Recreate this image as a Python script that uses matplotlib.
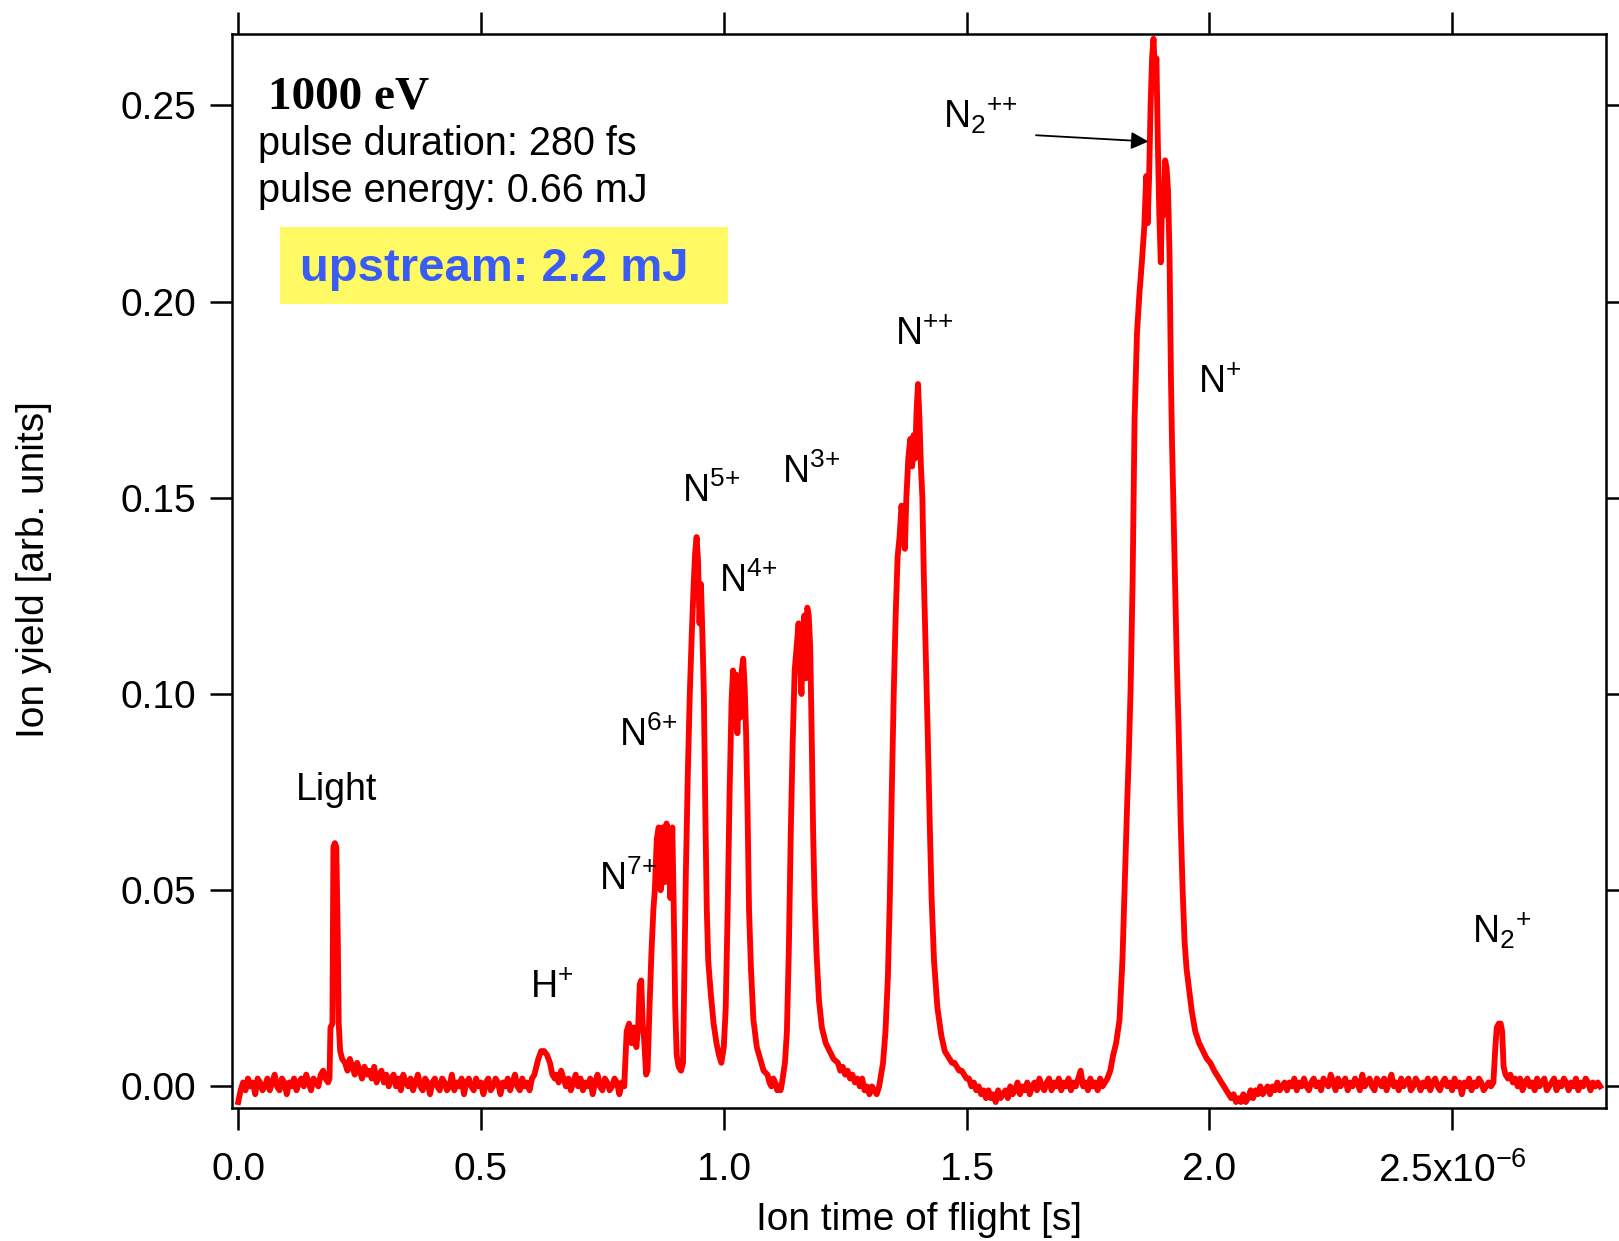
import numpy as np
import matplotlib
matplotlib.use("Agg")
import matplotlib.pyplot as plt
from matplotlib.patches import Rectangle

plt.rcParams['font.family'] = ['Liberation Sans', 'DejaVu Sans']
plt.rcParams['mathtext.fontset'] = 'custom'
plt.rcParams['mathtext.rm'] = 'Liberation Sans'
plt.rcParams['mathtext.default'] = 'regular'

BASE_STEP_US = 0.005
base_a_start = 0.000
base_a = [-4, -1, 1, -1, 2, 0, 1, -2, 2, 1, -1, 0, 2, -1, 1, 3, 0, -1, 2, 1,
          -2, 1, 0, 2, -1, 1, 2, 0, 3, 1, -1, 2, 1, 0, 3, 4, 2, 1]
base_b_start = 0.220
base_b = [6, 4, 7, 5, 3, 6, 4, 2, 5, 3, 4, 2, 5, 1, 3, 4, 1, 3, 0, 2,
          3, 0, 2, -1, 3, 1, 0, 2, -1, 1, 3, 0, -1, 2, 1, -2, 1, 2, 0, -1,
          2, 1, -1, 0, 3, -1, 1, 0, 2, -2, 1, 2, 0, -1, 2, 0, 1, -2, 1, 2,
          -1, 0, 2, 1, -2, 1, 0, 2, -1, 1, 3, 0, -1, 2, 0, 1, -1, 2]
base_c_start = 0.655
base_c = [3, 1, 4, 2, 0, 2, -1, 1, 3, 0, 2, -1, 1, 0, 2, -2, 1, 3, 0, -1,
          2, 1, -1, 0, 2, 1, -2, 1, 0]
base_d_start = 1.455
base_d = [9, 8, 7, 6, 6, 5, 4, 4, 3, 2, 2, 0, 1, -1, 0, -2, -1, -3, -1, -3,
          -2, -4, -1, -3, -2, -1, -3, 0, -2, -1, 1, -2, 0, -1, 1, -2, 0, 1, -1, 2,
          0, -1, 1, 2, -1, 1, 0, 2, -1, 1, 0, 2, -1, 1, 0, 2, 4, 0, 1, -1,
          2, 0, 1, -1, 2, 0, 1, 2]
base_e_start = 2.015
base_e = [3, 2, 1, 0, -1, -2, -3, -2, -4, -3, -4, -2, -4, -3, -1, -3, -1, -2, 0, -2,
          -1, 0, -2, 0, -1, 1, -1, 0, 1, -1, 1, 0, 2, -1, 1, 0, 2, 0, -1, 1,
          2, 0, 1, -1, 2, 1, 0, 3, 1, -1, 2, 0, 1, 2, -1, 1, 0, 2, 1, -1,
          3, 0, 1, 2, 0, -1, 2, 1, 0, 2, -1, 1, 3, 0, 1, -1, 2, 0, 1, 2,
          -1, 0, 2, 1, -1, 1, 0, 2, -1, 1, 2, 0, -1, 1, 2, 0, 1, -1, 2, 0,
          1, -2, 1, 0, 2, -1, 1, 0, 2, 1, -1, 0, 1, 0, 1]
base_f_start = 2.610
base_f = [3, 2, 3, 1, 2, 0, 2, -1, 1, 2, 0, 1, -1, 2, 0, 1, 2, -1, 0, 1,
          2, -1, 1, 0, 2, 1, -1, 1, 0, 2, -1, 1, 0, 2, 1, -1, 1, 0, 1, 0]

# Peaks: time of flight (us), ion yield (arb. units)
light_t = [0.188, 0.190, 0.194, 0.196, 0.199, 0.202, 0.205, 0.207, 0.210, 0.214]
light_y = [0.002, 0.015, 0.016, 0.061, 0.062, 0.061, 0.038, 0.016, 0.009, 0.007]

hplus_t = [0.610, 0.614, 0.618, 0.624, 0.630, 0.636, 0.642, 0.647, 0.652]
hplus_y = [0.003, 0.005, 0.007, 0.009, 0.009, 0.008, 0.006, 0.003, 0.002]

cluster_t = [
    0.800, 0.805, 0.810, 0.815, 0.820, 0.824, 0.827, 0.830, 0.833, 0.836,
    0.840, 0.843, 0.847, 0.851, 0.855, 0.858, 0.862, 0.866, 0.870, 0.874,
    0.878, 0.882, 0.886, 0.890, 0.894, 0.897, 0.900, 0.903, 0.907, 0.912,
    0.916, 0.919, 0.922, 0.926, 0.930, 0.934, 0.938, 0.941, 0.944, 0.947,
    0.950, 0.953, 0.956, 0.959, 0.962, 0.965, 0.968, 0.973, 0.979, 0.985,
    0.990, 0.995, 1.000, 1.004, 1.008, 1.012, 1.016, 1.019, 1.022, 1.025,
    1.028, 1.031, 1.034, 1.037, 1.040, 1.043, 1.046, 1.049, 1.052, 1.056,
    1.061, 1.068, 1.075, 1.082, 1.090, 1.094, 1.098, 1.102, 1.106, 1.110,
    1.114, 1.117, 1.120, 1.126, 1.130, 1.134, 1.138, 1.142, 1.146, 1.150,
    1.154, 1.157, 1.160, 1.163, 1.166, 1.169, 1.172, 1.175, 1.178, 1.181,
    1.184, 1.187, 1.191, 1.196, 1.202, 1.210, 1.218, 1.226, 1.235, 1.240,
    1.245, 1.250, 1.255, 1.260, 1.265, 1.270, 1.275, 1.280, 1.285, 1.290,
    1.295, 1.300, 1.305, 1.310, 1.315, 1.320, 1.324, 1.328, 1.333, 1.338,
    1.342, 1.346, 1.350, 1.354, 1.358, 1.362, 1.366, 1.370, 1.373, 1.376,
    1.380, 1.384, 1.388, 1.391, 1.394, 1.397, 1.400, 1.403, 1.406, 1.409,
    1.412, 1.416, 1.420, 1.424, 1.428, 1.433, 1.440, 1.448,
]
cluster_y = [
    0.014, 0.016, 0.011, 0.015, 0.010, 0.016, 0.026, 0.027, 0.016, 0.012,
    0.003, 0.004, 0.020, 0.034, 0.045, 0.050, 0.063, 0.066, 0.050, 0.066,
    0.052, 0.067, 0.065, 0.048, 0.066, 0.045, 0.020, 0.008, 0.005, 0.004,
    0.006, 0.030, 0.055, 0.080, 0.100, 0.115, 0.128, 0.136, 0.140, 0.134,
    0.118, 0.128, 0.115, 0.100, 0.070, 0.045, 0.032, 0.024, 0.016, 0.011,
    0.008, 0.006, 0.010, 0.020, 0.045, 0.075, 0.098, 0.106, 0.092, 0.105,
    0.090, 0.103, 0.094, 0.106, 0.109, 0.102, 0.090, 0.070, 0.045, 0.030,
    0.017, 0.010, 0.007, 0.004, 0.003, 0.001, 0.000, 0.002, 0.001, -0.001,
    0.000, -0.001, 0.001, 0.006, 0.014, 0.035, 0.065, 0.088, 0.106, 0.112,
    0.118, 0.108, 0.100, 0.115, 0.120, 0.104, 0.122, 0.120, 0.112, 0.090,
    0.065, 0.048, 0.034, 0.022, 0.015, 0.011, 0.009, 0.007, 0.006, 0.004,
    0.005, 0.003, 0.004, 0.002, 0.003, 0.001, 0.002, 0.000, 0.002, -0.001,
    0.000, -0.002, 0.000, -0.001, -0.002, 0.000, 0.003, 0.006, 0.014, 0.028,
    0.048, 0.075, 0.100, 0.120, 0.135, 0.140, 0.148, 0.142, 0.137, 0.150,
    0.160, 0.165, 0.158, 0.166, 0.160, 0.172, 0.179, 0.170, 0.158, 0.150,
    0.130, 0.110, 0.090, 0.068, 0.048, 0.032, 0.020, 0.013,
]

main_t = [
    1.796, 1.802, 1.808, 1.815, 1.821, 1.827, 1.831, 1.834, 1.838, 1.842,
    1.846, 1.851, 1.856, 1.861, 1.866, 1.870, 1.873, 1.876, 1.879, 1.882,
    1.885, 1.888, 1.891, 1.894, 1.897, 1.900, 1.903, 1.906, 1.909, 1.912,
    1.915, 1.918, 1.921, 1.923, 1.926, 1.930, 1.933, 1.937, 1.941, 1.945,
    1.949, 1.953, 1.958, 1.964, 1.971, 1.979, 1.987, 1.995, 2.002, 2.010,
]
main_y = [
    0.004, 0.008, 0.011, 0.017, 0.032, 0.057, 0.073, 0.084, 0.102, 0.129,
    0.170, 0.192, 0.202, 0.210, 0.219, 0.232, 0.220, 0.232, 0.250, 0.262,
    0.267, 0.258, 0.262, 0.240, 0.222, 0.210, 0.228, 0.222, 0.236, 0.234,
    0.228, 0.212, 0.180, 0.165, 0.148, 0.125, 0.108, 0.090, 0.067, 0.050,
    0.037, 0.030, 0.025, 0.019, 0.014, 0.011, 0.009, 0.007, 0.006, 0.004,
]

n2plus_t = [2.589, 2.592, 2.596, 2.600, 2.603, 2.606]
n2plus_y = [0.010, 0.015, 0.016, 0.016, 0.014, 0.005]

x_ticks_us = [0.0, 0.5, 1.0, 1.5, 2.0, 2.5]
x_tick_labels = ["0.0", "0.5", "1.0", "1.5", "2.0", "2.5x10$^{-6}$"]
y_ticks = [0.00, 0.05, 0.10, 0.15, 0.20, 0.25]
y_tick_labels = ["0.00", "0.05", "0.10", "0.15", "0.20", "0.25"]

# peak labels: text, time (us), yield
peak_labels = [
    ("Light", 0.119, 0.0729),
    ("H$^{+}$", 0.600, 0.0224),
    ("N$^{7{+}}$", 0.742, 0.0500),
    ("N$^{6{+}}$", 0.785, 0.0868),
    ("N$^{5{+}}$", 0.913, 0.1490),
    ("N$^{4{+}}$", 0.991, 0.1260),
    ("N$^{3{+}}$", 1.119, 0.1537),
    ("N$^{{+}{+}}$", 1.353, 0.1890),
    ("N$_2{}^{{+}{+}}$", 1.451, 0.2442),
    ("N$^{+}$", 1.977, 0.1768),
    ("N$_2{}^{+}$", 2.540, 0.0366),
]


def baseline(start, vals):
    t = start + BASE_STEP_US * np.arange(len(vals))
    return list(t), [v * 1e-3 for v in vals]


parts = [
    baseline(base_a_start, base_a),
    (light_t, light_y),
    baseline(base_b_start, base_b),
    (hplus_t, hplus_y),
    baseline(base_c_start, base_c),
    (cluster_t, cluster_y),
    baseline(base_d_start, base_d),
    (main_t, main_y),
    baseline(base_e_start, base_e),
    (n2plus_t, n2plus_y),
    baseline(base_f_start, base_f),
]
tof_us = np.concatenate([np.asarray(p[0], float) for p in parts])
ion_yield = np.concatenate([np.asarray(p[1], float) for p in parts])
order = np.argsort(tof_us, kind='stable')
tof_us = tof_us[order]
ion_yield = ion_yield[order]

fig = plt.figure(figsize=(16.19, 12.41), dpi=100)
ax = fig.add_axes([0.1433, 0.1072, 0.8487, 0.8654])

ax.plot(tof_us * 1e-6, ion_yield, color='#ff0000', lw=4.2)

ax.set_xlim(-0.0128e-6, 2.817e-6)
ax.set_ylim(-0.0055, 0.2682)

ax.set_xticks(np.array(x_ticks_us) * 1e-6)
ax.set_xticklabels(x_tick_labels)
ax.set_yticks(y_ticks)
ax.set_yticklabels(y_tick_labels)
ax.tick_params(axis='both', direction='out', length=16, width=1.8,
               labelsize=28, top=True, right=True)
ax.tick_params(axis='x', pad=16)
ax.tick_params(axis='y', pad=10)
for s in ax.spines.values():
    s.set_linewidth(1.8)

fig.text(0.5676, 0.0169, "Ion time of flight [s]", fontsize=28,
         ha='center', va='center')
fig.text(0.021, 0.5407, "Ion yield [arb. units]", fontsize=28,
         ha='center', va='center', rotation=90)

# header text
ax.text(0.062e-6, 0.2492, "1000 eV", fontsize=34, fontweight='bold',
        family=['Liberation Serif', 'DejaVu Serif'], va='baseline')
ax.text(0.040e-6, 0.2374, "pulse duration: 280 fs", fontsize=28.5, va='baseline')
ax.text(0.040e-6, 0.2255, "pulse energy: 0.66 mJ", fontsize=28.5, va='baseline')

ax.add_patch(Rectangle((0.035, 0.749), 0.326, 0.071, transform=ax.transAxes,
                       facecolor='#fffa64', edgecolor='none', zorder=1))
ax.text(0.128e-6, 0.2053, "upstream: 2.2 mJ", fontsize=34, fontweight='bold',
        color='#3a5cf5', va='baseline', zorder=3)

for txt, tx, ty in peak_labels:
    ax.text(tx * 1e-6, ty, txt, fontsize=27, va='baseline')

ax.annotate("", xy=(1.8745e-6, 0.2408), xytext=(1.643e-6, 0.2424),
            arrowprops=dict(arrowstyle='-|>', color='k', lw=1.3,
                            mutation_scale=26, shrinkA=0, shrinkB=0))

fig.savefig("out.png", dpi=100)
